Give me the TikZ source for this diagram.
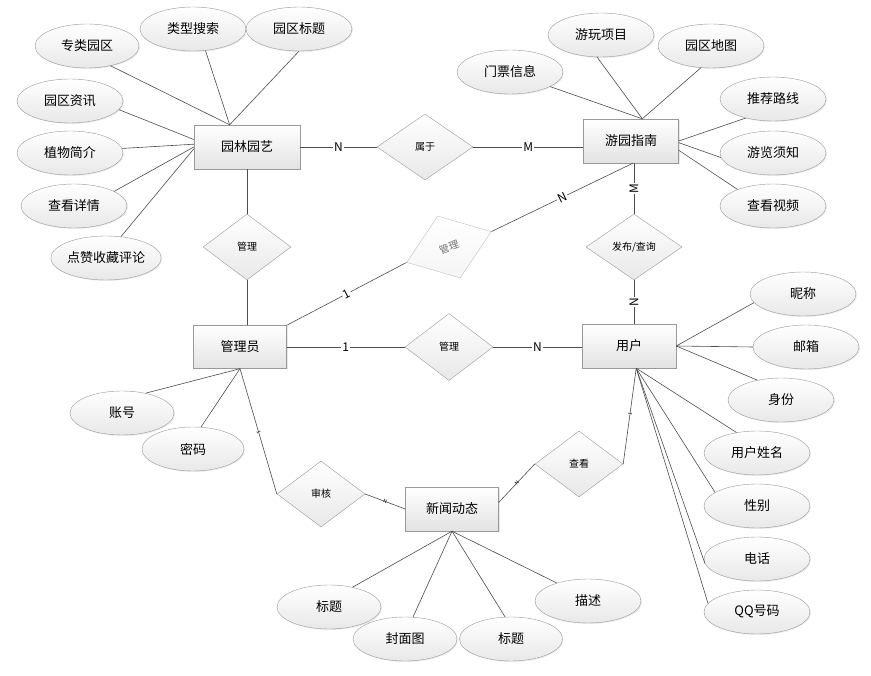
\documentclass[tikz,border=0pt]{standalone}
\usepackage{fontspec}
\setmainfont{Noto Sans CJK SC}
\usetikzlibrary{shapes.geometric}
\usetikzlibrary{shadows}

\begin{document}
\begin{tikzpicture}[x=1pt, y=-1pt,
    ent/.style = {draw=gray!80, top color=white, bottom color=gray!22, minimum width=94pt, minimum height=44pt, inner sep=0pt,
                  font=\fontsize{13}{15}\selectfont, drop shadow={opacity=0.18, shadow xshift=1pt, shadow yshift=-1pt}},
    att/.style = {ellipse, draw=gray!80, top color=white, bottom color=gray!18, minimum width=106pt, minimum height=44pt, inner sep=0pt,
                  font=\fontsize{13}{15}\selectfont, drop shadow={opacity=0.15, shadow xshift=1pt, shadow yshift=-1pt}},
    rel/.style = {diamond, draw=gray!80, top color=white, bottom color=gray!18, minimum width=88pt, minimum height=66pt, inner sep=0pt,
                  font=\fontsize{10}{12}\selectfont},
    conn/.style = {draw=black!70, line width=0.6pt},
    lbl/.style = {fill=white, inner sep=1pt, font=\fontsize{12}{14}\selectfont},
    tinylbl/.style = {sloped, inner sep=0pt, font=\fontsize{5}{6}\selectfont}]
    \useasboundingbox (0,0) rectangle (871,676);

    % entities
    \node[ent, minimum width=106pt] (yl) at (247,147) {园林园艺};
    \node[ent, minimum width=95pt] (yy) at (631,141) {游园指南};
    \node[ent, minimum width=93pt, minimum height=43pt] (gly) at (240,347) {管理员};
    \node[ent] (yh) at (629,346) {用户};
    \node[ent, minimum width=93pt] (xw) at (452,509) {新闻动态};

    % relations
    \node[rel, minimum width=96pt] (sy) at (425,147) {属于};
    \node[rel] (gl1) at (247,247) {管理};
    \node[rel, minimum width=90pt, rotate=20, draw=gray!50, bottom color=gray!8, text=black!55] (gl2) at (449,247) {管理};
    \node[rel, minimum height=67pt] (gl3) at (449,347) {管理};
    \node[rel, minimum width=96pt] (fb) at (634,247) {发布/查询};
    \node[rel] (sh) at (321,494) {审核};
    \node[rel] (ck) at (579,464) {查看};

    % attributes of 园林园艺
    \node[att, minimum width=104pt] (zlyq) at (87,46) {专类园区};
    \node[att] (lxss) at (193,29) {类型搜索};
    \node[att] (yqbt) at (299,29) {园区标题};
    \node[att] (yqzx) at (70,101) {园区资讯};
    \node[att] (zwjj) at (70,153) {植物简介};
    \node[att] (ckxq) at (74,206) {查看详情};
    \node[att] (dzsc) at (106,258) {点赞收藏评论};
    % attributes of 游园指南
    \node[att] (mpxx) at (510,72) {门票信息};
    \node[att] (ywxm) at (601,35) {游玩项目};
    \node[att] (yqdt) at (711,46) {园区地图};
    \node[att] (tjlx) at (773,99) {推荐路线};
    \node[att] (ylxz) at (773,153) {游览须知};
    \node[att] (cksp) at (773,206) {查看视频};
    % attributes of 用户
    \node[att] (nc) at (803,294) {昵称};
    \node[att] (yx) at (806,347) {邮箱};
    \node[att] (sf) at (781,400) {身份};
    \node[att] (yhxm) at (757,453) {用户姓名};
    \node[att] (xb) at (757,506) {性别};
    \node[att] (dh) at (757,559) {电话};
    \node[att] (qq) at (757,612) {QQ号码};
    % attributes of 管理员
    \node[att, minimum width=104pt] (zh) at (122,413) {账号};
    \node[att, minimum width=102pt] (mm) at (193,449) {密码};
    % attributes of 新闻动态
    \node[att, minimum width=104pt] (bt1) at (329,607) {标题};
    \node[att, minimum width=104pt] (fmt) at (405,639) {封面图};
    \node[att, minimum width=103pt] (bt2) at (511,639) {标题};
    \node[att] (ms) at (588,601) {描述};

    % attribute lines
    \foreach \a/\b in {zlyq.320/yl.128, lxss.300/yl.128, yqbt.south/yl.128, yqzx.350/yl.172,
                       zwjj.5/yl.177, ckxq.20/yl.180, dzsc.55/yl.182,
                       mpxx.340/yy.63, ywxm.260/yy.63, yqdt.245/yy.63,
                       tjlx.215/yy.east, ylxz.185/yy.358, cksp.155/yy.349,
                       nc.190/yh.east, yx.west/yh.east, sf.140/yh.east,
                       yhxm.135/yh.288, xb.162/yh.288, dh.185/yh.288, qq.170/yh.288,
                       zh.40/gly.south, mm.70/gly.south,
                       bt1.40/xw.south, fmt.70/xw.south, bt2.105/xw.south, ms.150/xw.south}
        \draw[conn] (\a) -- (\b);

    % relation lines
    \draw[conn] (yl.east) -- node[lbl] {N} (sy.west);
    \draw[conn] (sy.east) -- node[lbl] {M} (sy.east -| yy.west);
    \draw[conn] (yl.south) -- (gl1.north);
    \draw[conn] (gl1.south) -- (gl1.south |- gly.north);
    \draw[conn] (gly.north east) -- node[lbl, sloped] {1} (gl2.west);
    \draw[conn] (gl2.east) -- node[lbl, sloped] {N} (yy.-85);
    \draw[conn] (fb.north |- yy.south) -- node[lbl, rotate=90] {M} (fb.north);
    \draw[conn] (fb.south) -- node[lbl, rotate=90] {N} (fb.south |- yh.north);
    \draw[conn] (gly.east) -- node[lbl] {1} (gl3.west);
    \draw[conn] (gl3.east) -- node[lbl] {N} (gl3.east -| yh.west);
    \draw[conn] (gly.south) -- node[tinylbl, pos=0.51] {1} (sh.west);
    \draw[conn] (sh.east) -- node[tinylbl] {N} (xw.west);
    \draw[conn] (xw.8) -- node[tinylbl] {N} (ck.west);
    \draw[conn] (ck.east) -- node[tinylbl, pos=0.52] {1} (yh.288);
\end{tikzpicture}
\end{document}
